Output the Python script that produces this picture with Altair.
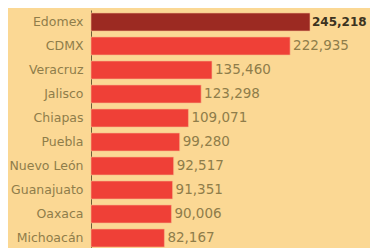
import altair as alt
import pandas as pd

estados = ["Edomex", "CDMX", "Veracruz", "Jalisco", "Chiapas", "Puebla",
           "Nuevo León", "Guanajuato", "Oaxaca", "Michoacán"]
casos = [245218, 222935, 135460, 123298, 109071, 99280, 92517, 91351, 90006, 82167]

df = pd.DataFrame({"estado": estados, "casos": casos})

FONT = "DejaVu Sans"
LABEL_COLOR = "#8f7d4a"

y_enc = alt.Y(
    "estado:N", sort=estados,
    scale=alt.Scale(range=[2, 242], paddingInner=0.25, paddingOuter=0.125),
    axis=alt.Axis(title=None, ticks=False, labelPadding=8, domainColor="#6e5f38",
                  domainWidth=1, labelColor=LABEL_COLOR, labelFont=FONT,
                  labelFontSize=12.5, labelFontWeight="normal"),
)
x_enc = alt.X("casos:Q", scale=alt.Scale(domain=[0, 312400]), axis=None)

base = alt.Chart(df).encode(y=y_enc, x=x_enc)

bars = base.mark_bar(stroke="#f7b98a", strokeWidth=0.6).encode(
    color=alt.condition(alt.datum.estado == "Edomex", alt.value("#9c2a22"), alt.value("#ef4037"))
)

text_norm = base.transform_filter(alt.datum.estado != "Edomex").mark_text(
    align="left", baseline="middle", dx=3, font=FONT, fontSize=13.5, color=LABEL_COLOR
).encode(text=alt.Text("casos:Q", format=","))

text_bold = base.transform_filter(alt.datum.estado == "Edomex").mark_text(
    align="left", baseline="middle", dx=2, font=FONT, fontSize=12, fontWeight="bold",
    color="#3b3220"
).encode(text=alt.Text("casos:Q", format=","))

chart = (bars + text_norm + text_bold).properties(
    width=279, height=240,
    background="#fbd894",
    padding={"left": 83, "top": 0, "right": 0, "bottom": 0},
    autosize=alt.AutoSizeParams(type="none"),
).configure_view(stroke=None)

chart.save("out.html", embed_options={"renderer": "svg", "actions": False})
